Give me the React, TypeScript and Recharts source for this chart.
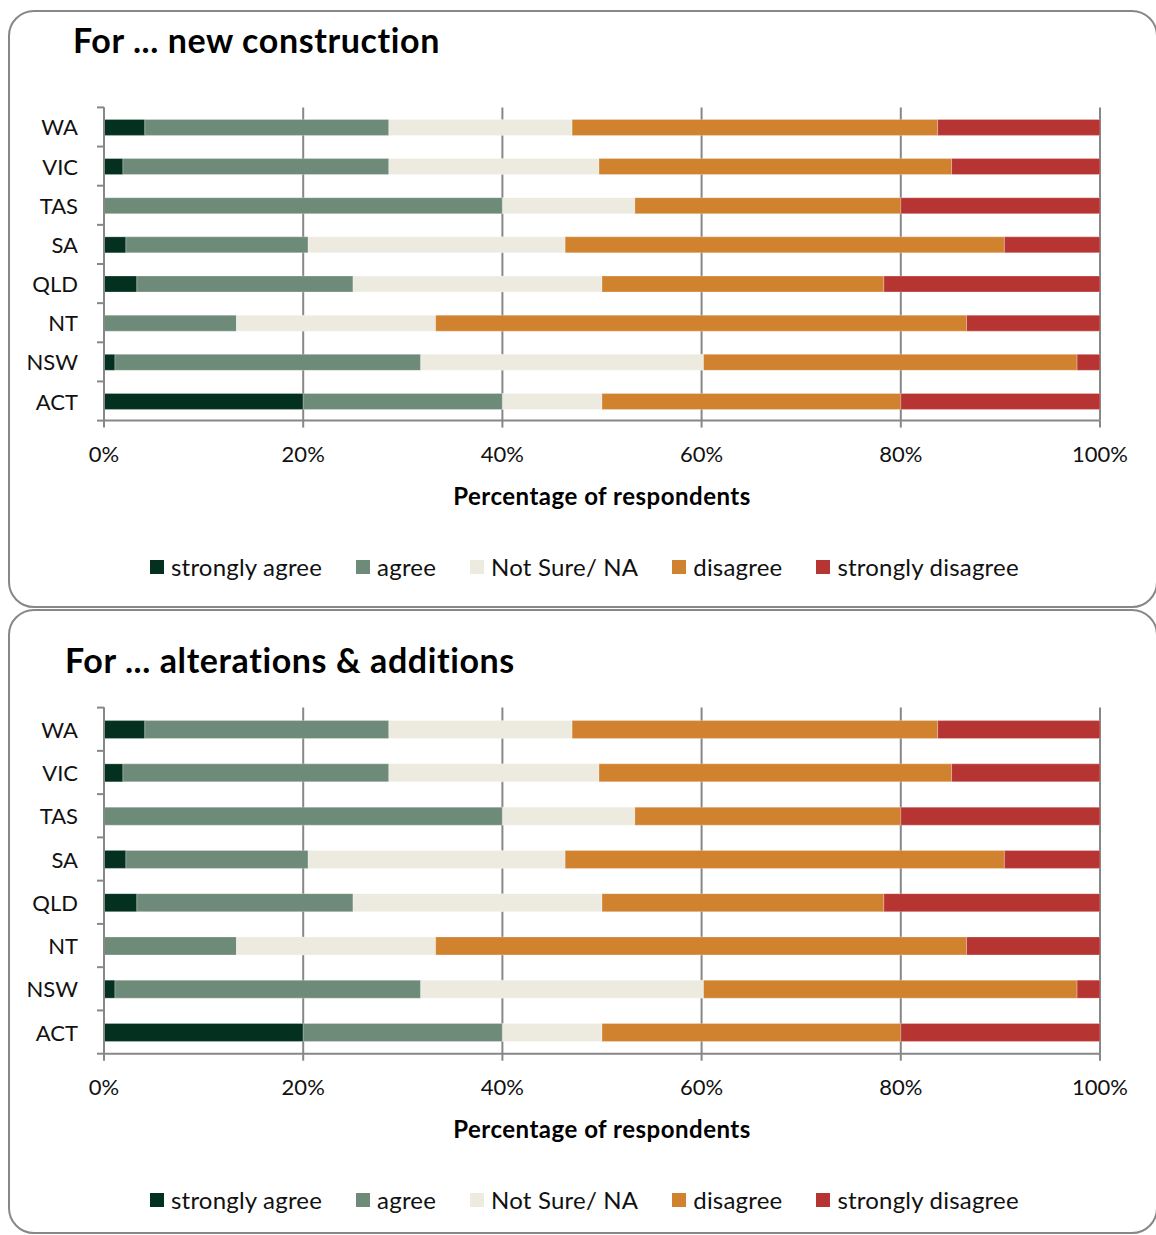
import React from 'react';
import { BarChart, Bar, XAxis, YAxis, CartesianGrid } from 'recharts';

const states = ['WA', 'VIC', 'TAS', 'SA', 'QLD', 'NT', 'NSW', 'ACT'];
const stronglyAgree = [4.1, 1.9, 0, 2.2, 3.3, 0, 1.1, 20];
const agree = [24.5, 26.7, 40, 18.3, 21.7, 13.3, 30.7, 20];
const notSure = [18.4, 21.1, 13.3, 25.8, 25.0, 20.0, 28.4, 10];
const disagree = [36.7, 35.4, 26.7, 44.1, 28.3, 53.3, 37.5, 30];
const stronglyDisagree = [16.3, 14.9, 20.0, 9.7, 21.7, 13.4, 2.3, 20];
const xTicks = [0, 20, 40, 60, 80, 100];

const series = [
  { key: 'stronglyAgree', name: 'strongly agree', color: '#03301f' },
  { key: 'agree', name: 'agree', color: '#6e8a79' },
  { key: 'notSure', name: 'Not Sure/ NA', color: '#edebe0' },
  { key: 'disagree', name: 'disagree', color: '#d0822e' },
  { key: 'stronglyDisagree', name: 'strongly disagree', color: '#b63532' },
];

const data = states.map((s, i) => ({
  state: s,
  stronglyAgree: stronglyAgree[i],
  agree: agree[i],
  notSure: notSure[i],
  disagree: disagree[i],
  stronglyDisagree: stronglyDisagree[i],
}));

const FONT = 'Lato, "Open Sans", sans-serif';
const AXIS = '#878787';
const PLOT_LEFT = 104;
const PLOT_RIGHT = 1100;
const W = 1156;

function CategoryTick(props: any) {
  const { x, y, payload, index, band } = props;
  const axisX = PLOT_LEFT;
  return (
    <g>
      <text x={x} y={y} textAnchor="end" dominantBaseline="central" fontSize={22} fill="#111" fontFamily={FONT}>
        {payload.value}
      </text>
      <line x1={axisX - 7} x2={axisX} y1={payload.coordinate - band / 2} y2={payload.coordinate - band / 2} stroke={AXIS} strokeWidth={2} />
      {index === states.length - 1 && (
        <line x1={axisX - 7} x2={axisX} y1={payload.coordinate + band / 2} y2={payload.coordinate + band / 2} stroke={AXIS} strokeWidth={2} />
      )}
    </g>
  );
}

function Legend({ top }: { top: number }) {
  return (
    <div
      style={{
        position: 'absolute',
        top: top - 15,
        left: 150,
        height: 30,
        display: 'flex',
        alignItems: 'center',
        fontFamily: FONT,
        fontSize: 24,
        letterSpacing: 0.2,
        color: '#111',
        whiteSpace: 'nowrap',
      }}
    >
      {series.map((s) => (
        <div key={s.key} style={{ display: 'flex', alignItems: 'center', marginRight: 34 }}>
          <span style={{ width: 14, height: 14, background: s.color, display: 'inline-block', marginRight: 7 }} />
          <span>{s.name}</span>
        </div>
      ))}
    </div>
  );
}

interface PanelProps {
  title: string;
  titleLeft: number;
  titleY: number;
  boxTop: number;
  boxHeight: number;
  chartTop: number;
  chartHeight: number;
  plotTop: number;
  plotBottom: number;
  barSize: number;
}

function Panel({ title, titleLeft, titleY, boxTop, boxHeight, chartTop, chartHeight, plotTop, plotBottom, barSize }: PanelProps) {
  const band = (plotBottom - plotTop) / states.length;
  const xAxisH = 40;
  return (
    <>
      <div
        style={{
          position: 'absolute',
          left: 8,
          top: boxTop,
          width: 1150,
          height: boxHeight,
          border: `2px solid ${AXIS}`,
          borderRadius: 26,
          boxSizing: 'border-box',
        }}
      />
      <div
        style={{
          position: 'absolute',
          left: titleLeft,
          top: titleY - 22,
          lineHeight: '44px',
          fontFamily: FONT,
          fontWeight: 700,
          fontSize: 34,
          letterSpacing: 0.6,
          color: '#000',
          whiteSpace: 'nowrap',
        }}
      >
        {title}
      </div>
      <div style={{ position: 'absolute', left: 0, top: chartTop }}>
        <BarChart
          width={W}
          height={chartHeight}
          data={data}
          layout="vertical"
          barSize={barSize}
          margin={{ top: plotTop - chartTop, right: W - PLOT_RIGHT, left: 0, bottom: chartHeight - (plotBottom - chartTop) - xAxisH }}
        >
          <CartesianGrid horizontal={false} vertical stroke={AXIS} strokeWidth={2} />
          <XAxis
            type="number"
            domain={[0, 100]}
            allowDataOverflow
            ticks={xTicks}
            tickFormatter={(v) => `${v}%`}
            height={xAxisH}
            stroke={AXIS}
            strokeWidth={2}
            tickSize={7}
            tickMargin={19}
            tick={{ fontSize: 22, fill: '#111', fontFamily: FONT }}
            interval={0}
          />
          <YAxis
            type="category"
            dataKey="state"
            width={PLOT_LEFT}
            stroke={AXIS}
            strokeWidth={2}
            tickLine={false}
            tickSize={0}
            tickMargin={26}
            interval={0}
            tick={<CategoryTick band={band} />}
          />
          {series.map((s) => (
            <Bar key={s.key} dataKey={s.key} name={s.name} stackId="a" fill={s.color} stroke="#ffffff" strokeOpacity={0.35} strokeWidth={0.75} isAnimationActive={false} />
          ))}
        </BarChart>
      </div>
      <div
        style={{
          position: 'absolute',
          left: PLOT_LEFT,
          width: PLOT_RIGHT - PLOT_LEFT,
          top: plotBottom + 75 - 15,
          lineHeight: '30px',
          textAlign: 'center',
          fontFamily: FONT,
          fontWeight: 700,
          fontSize: 24,
          letterSpacing: 0.5,
          color: '#000',
        }}
      >
        Percentage of respondents
      </div>
      <Legend top={plotBottom + 146} />
    </>
  );
}

export default function App() {
  return (
    <div style={{ position: 'absolute', left: 0, top: 0, width: W, height: 1235, overflow: 'hidden', background: '#fff' }}>
      <Panel
        title="For ... new construction"
        titleLeft={73}
        titleY={40}
        boxTop={10}
        boxHeight={598}
        chartTop={0}
        chartHeight={600}
        plotTop={107.4}
        plotBottom={420.6}
        barSize={16}
      />
      <Panel
        title="For ... alterations & additions"
        titleLeft={65}
        titleY={660}
        boxTop={609}
        boxHeight={625}
        chartTop={600}
        chartHeight={635}
        plotTop={707.6}
        plotBottom={1053.7}
        barSize={18}
      />
    </div>
  );
}
